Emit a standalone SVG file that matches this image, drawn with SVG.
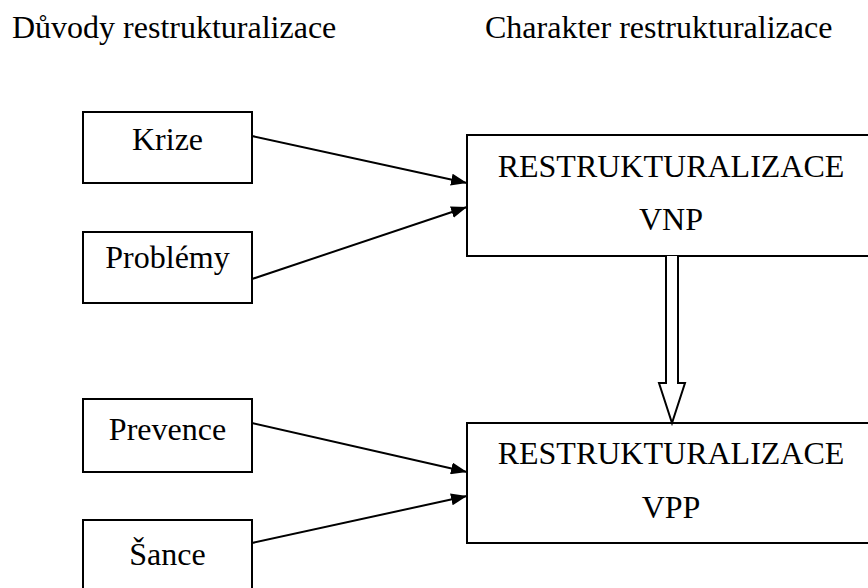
<svg xmlns="http://www.w3.org/2000/svg" width="868" height="588" viewBox="0 0 868 588">
  <style>
    .box { fill: #ffffff; stroke: #000000; stroke-width: 2; }
    .lbl { font-family: "Liberation Serif", "Times New Roman", serif; font-size: 32px; fill: #000000; }
    .mid { text-anchor: middle; }
    .conn { stroke: #000000; stroke-width: 2; fill: none; }
    .hollow { fill: #ffffff; stroke: #000000; stroke-width: 2; stroke-linejoin: miter; }
  </style>
  <defs>
    <marker id="head" viewBox="0 0 16 12" refX="16" refY="6" markerWidth="16" markerHeight="12" markerUnits="userSpaceOnUse" orient="auto">
      <path d="M0,0 L16,6 L0,12 Z" fill="#000000"/>
    </marker>
  </defs>

  <rect width="868" height="588" fill="#ffffff"/>

  <!-- column headings -->
  <text class="lbl" x="12" y="38">Důvody restrukturalizace</text>
  <text class="lbl" x="485" y="38">Charakter restrukturalizace</text>

  <!-- causes -->
  <g id="krize">
    <rect class="box" x="83" y="112" width="169" height="71"/>
    <text class="lbl mid" x="167.5" y="150">Krize</text>
  </g>
  <g id="problemy">
    <rect class="box" x="83" y="232" width="169" height="71"/>
    <text class="lbl mid" x="167.5" y="268">Problémy</text>
  </g>
  <g id="prevence">
    <rect class="box" x="83" y="399" width="169" height="73"/>
    <text class="lbl mid" x="167.5" y="440">Prevence</text>
  </g>
  <g id="sance">
    <rect class="box" x="83" y="520" width="169" height="80"/>
    <text class="lbl mid" x="167.5" y="565">Šance</text>
  </g>

  <!-- restructuring types -->
  <g id="vnp">
    <rect class="box" x="467" y="135" width="410" height="121"/>
    <text class="lbl mid" x="671" y="177">RESTRUKTURALIZACE</text>
    <text class="lbl mid" x="671" y="230">VNP</text>
  </g>
  <g id="vpp">
    <rect class="box" x="467" y="423" width="410" height="120"/>
    <text class="lbl mid" x="671" y="464">RESTRUKTURALIZACE</text>
    <text class="lbl mid" x="671" y="518">VPP</text>
  </g>

  <!-- connectors -->
  <g id="connectors">
    <line class="conn" x1="252" y1="136" x2="467" y2="183" marker-end="url(#head)"/>
    <line class="conn" x1="252" y1="279" x2="467" y2="207" marker-end="url(#head)"/>
    <line class="conn" x1="252" y1="423" x2="467" y2="472" marker-end="url(#head)"/>
    <line class="conn" x1="252" y1="543" x2="467" y2="496" marker-end="url(#head)"/>
    <path class="hollow" d="M666,256 L666,383 L659,383 L672,423 L685,383 L678,383 L678,256"/>
  </g>
</svg>
